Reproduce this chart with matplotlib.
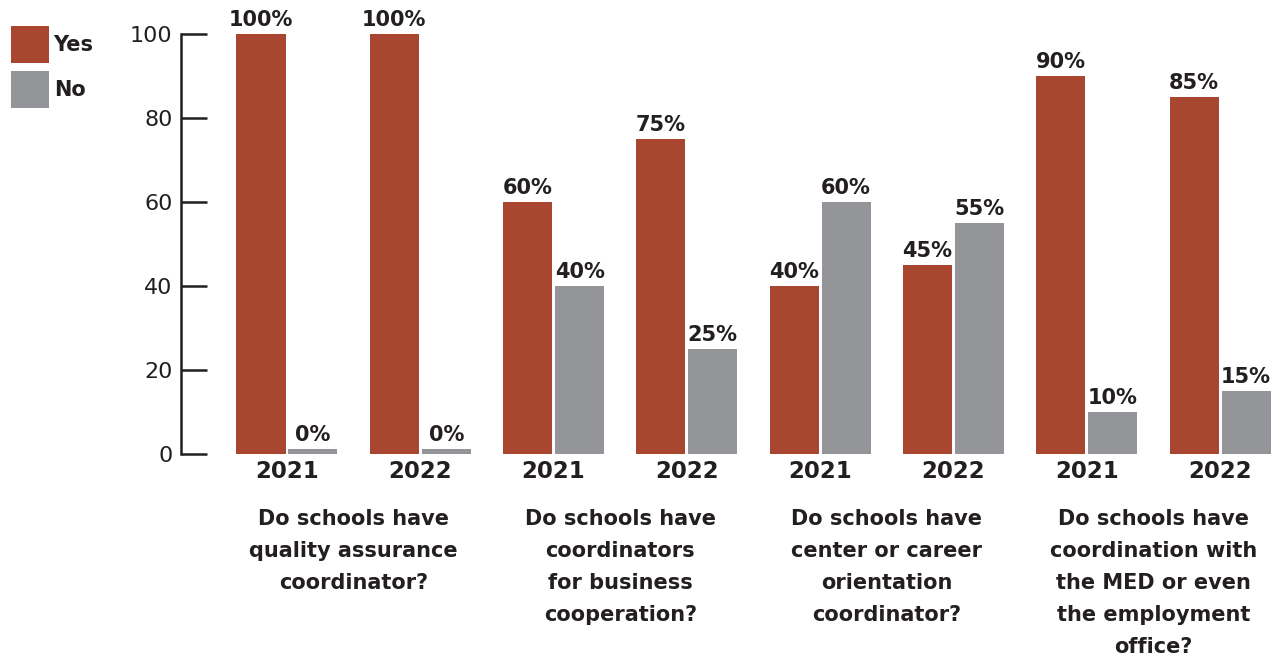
import matplotlib.pyplot as plt
import numpy as np

# survey answers per question and year
years = ['2021', '2022', '2021', '2022', '2021', '2022', '2021', '2022']
yes = [100, 100, 60, 75, 40, 45, 90, 85]
no = [0, 0, 40, 25, 60, 55, 10, 15]
questions = [
    'Do schools have\nquality assurance\ncoordinator?',
    'Do schools have\ncoordinators\nfor business\ncooperation?',
    'Do schools have\ncenter or career\norientation\ncoordinator?',
    'Do schools have\ncoordination with\nthe MED or even\nthe employment\noffice?',
]

red = '#A8462F'
grey = '#939598'
ink = '#231F20'

fig = plt.figure(figsize=(12.77, 6.6), dpi=100)
ax = fig.add_axes([181 / 1277, 1 - 454 / 660, 1 - 181 / 1277, 420 / 660])

x = np.arange(len(years))
w = 0.368
off = 0.195
# zero values still get a thin stub so the bar is visible
no_h = [v if v > 0 else 1.2 for v in no]
ax.bar(x - off, yes, w, color=red, label='Yes')
ax.bar(x + off, no_h, w, color=grey, label='No')

for i in range(len(x)):
    ax.annotate(f'{yes[i]}%', (x[i] - off, yes[i]), xytext=(0, 3), textcoords='offset points',
                ha='center', va='bottom', fontsize=15, fontweight='bold', color=ink)
    ax.annotate(f'{no[i]}%', (x[i] + off, no_h[i]), xytext=(0, 3), textcoords='offset points',
                ha='center', va='bottom', fontsize=15, fontweight='bold', color=ink)

ax.set_xlim(-0.795, 7.427)
ax.set_ylim(0, 100)
ax.set_yticks([0, 20, 40, 60, 80, 100])
ax.tick_params(axis='y', direction='in', length=19, width=1.8, color=ink,
               labelsize=16, labelcolor=ink, pad=6)
ax.set_xticks(x)
ax.set_xticklabels(years, fontsize=16.5, fontweight='bold', color=ink)
ax.tick_params(axis='x', length=0, pad=4)

for s in ['top', 'right', 'bottom']:
    ax.spines[s].set_visible(False)
ax.spines['left'].set_linewidth(1.8)
ax.spines['left'].set_color(ink)

for g, q in enumerate(questions):
    ax.text(2 * g + 0.5, -13, q, ha='center', va='top', fontsize=15, fontweight='bold',
            color=ink, linespacing=1.75, transform=ax.transData, clip_on=False)

fig.legend(loc='upper left', bbox_to_anchor=(3 / 1277, 1 - 18 / 660), frameon=False,
           handlelength=1.83, handleheight=2.35, labelspacing=0.38, labelcolor=ink,
           handletextpad=0.2, borderaxespad=0, prop={'weight': 'bold', 'size': 15})

fig.savefig('out.png', dpi=100)
